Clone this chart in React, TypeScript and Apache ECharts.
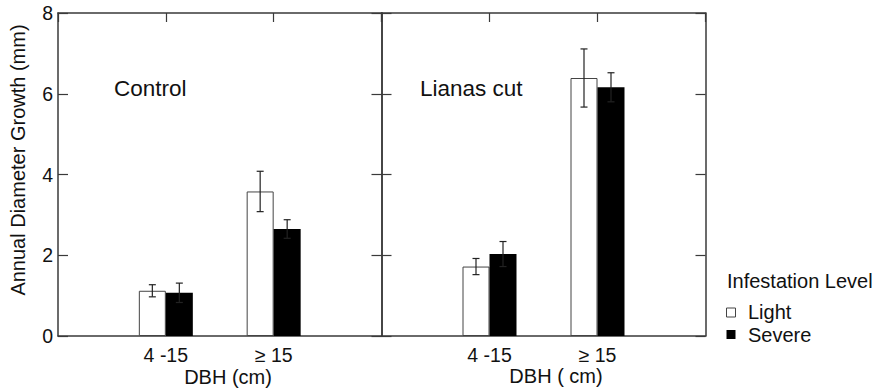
import React, { useEffect, useRef } from "react";
import * as echarts from "echarts";

const categories = ["4 -15", "≥ 15"];
const yTicks = [0, 2, 4, 6, 8];
const controlLight = [1.12, 3.58];
const controlLightErr = [0.15, 0.5];
const controlSevere = [1.07, 2.65];
const controlSevereErr = [0.24, 0.23];
const cutLight = [1.72, 6.39];
const cutLightErr = [0.2, 0.72];
const cutSevere = [2.03, 6.16];
const cutSevereErr = [0.31, 0.36];
const panelTitles = ["Control", "Lianas cut"];
const xTitles = ["DBH (cm)", "DBH ( cm)"];
const legendTitle = "Infestation Level";
const seriesNames = ["Light", "Severe"];

const FONT = "'Liberation Sans', Arial, Helvetica, sans-serif";
const AXIS = "#3a3a3a";
const TXT = "#111";
const BAR_W = 27;

export default function App() {
  const ref = useRef<HTMLDivElement>(null);
  useEffect(() => {
    if (!ref.current) return;
    const chart = echarts.init(ref.current, undefined, { renderer: "svg" });
    const axisCats = ["", ...categories, ""];

    const catAxis = (gi: number, pos: "top" | "bottom") => ({
      type: "category",
      gridIndex: gi,
      position: pos,
      data: axisCats,
      boundaryGap: false,
      axisLine: { show: true, onZero: false, lineStyle: { color: AXIS, width: 1.5 } },
      axisTick: { show: pos === "top", inside: true, length: 9, lineStyle: { color: AXIS, width: 1.2 } },
      axisLabel: {
        show: pos === "bottom",
        margin: 9,
        fontSize: 19.5,
        color: TXT,
        fontFamily: FONT,
        interval: 0,
      },
      splitLine: { show: false },
    });

    const valAxis = (gi: number, pos: "left" | "right", labels: boolean) => ({
      type: "value",
      gridIndex: gi,
      position: pos,
      min: yTicks[0],
      max: yTicks[yTicks.length - 1],
      interval: yTicks[1] - yTicks[0],
      axisLine: { show: true, onZero: false, lineStyle: { color: AXIS, width: 1.5 } },
      axisTick: { show: true, inside: true, length: 10, lineStyle: { color: AXIS, width: 1.2 } },
      axisLabel: { show: labels, margin: 5, fontSize: 19.5, color: TXT, fontFamily: FONT },
      splitLine: { show: false },
    });

    const toPairs = (vals: number[]) => vals.map((v, i) => [i + 1, v]);
    const errData = (vals: number[], errs: number[], off: number) =>
      vals.map((v, i) => [i + 1, v, errs[i], off]);

    const renderErr = (params: any, api: any) => {
      const x = api.value(0);
      const v = api.value(1);
      const e = api.value(2);
      const off = api.value(3);
      const top = api.coord([x, v + e]);
      const bot = api.coord([x, v - e]);
      const cx = top[0] + off;
      const half = 3.5;
      const style = { stroke: "#222", lineWidth: 1.2 };
      return {
        type: "group",
        children: [
          { type: "line", shape: { x1: cx, y1: top[1], x2: cx, y2: bot[1] }, style },
          { type: "line", shape: { x1: cx - half, y1: top[1], x2: cx + half, y2: top[1] }, style },
          { type: "line", shape: { x1: cx - half, y1: bot[1], x2: cx + half, y2: bot[1] }, style },
        ],
      };
    };

    const barSeries = (gi: number, name: string, vals: number[], light: boolean) => ({
      type: "bar",
      name,
      xAxisIndex: gi * 2,
      yAxisIndex: gi * 2,
      data: toPairs(vals),
      barWidth: BAR_W,
      barGap: "0%",
      itemStyle: light
        ? { color: "#ffffff", borderColor: "#444", borderWidth: 1 }
        : { color: "#000000" },
      z: 2,
    });

    const errSeries = (gi: number, vals: number[], errs: number[], off: number) => ({
      type: "custom",
      xAxisIndex: gi * 2,
      yAxisIndex: gi * 2,
      data: errData(vals, errs, off),
      renderItem: renderErr,
      z: 5,
      silent: true,
    });

    const textEl = (text: string, x: number, y: number, align: string, size: number, extra: any = {}) => ({
      type: "text",
      x,
      y,
      ...extra,
      style: {
        text,
        fill: TXT,
        font: `${size}px ${FONT}`,
        align,
        verticalAlign: "middle",
      },
    });

    const option: any = {
      animation: false,
      backgroundColor: "#ffffff",
      grid: [
        { left: 58, top: 13, width: 323.5, height: 323 },
        { left: 381.5, top: 13, width: 324, height: 323 },
      ],
      xAxis: [catAxis(0, "bottom"), catAxis(0, "top"), catAxis(1, "bottom"), catAxis(1, "top")],
      yAxis: [
        valAxis(0, "left", true),
        valAxis(0, "right", false),
        valAxis(1, "left", false),
        valAxis(1, "right", false),
      ],
      series: [
        barSeries(0, seriesNames[0], controlLight, true),
        barSeries(0, seriesNames[1], controlSevere, false),
        barSeries(1, seriesNames[0], cutLight, true),
        barSeries(1, seriesNames[1], cutSevere, false),
        errSeries(0, controlLight, controlLightErr, -BAR_W / 2),
        errSeries(0, controlSevere, controlSevereErr, BAR_W / 2),
        errSeries(1, cutLight, cutLightErr, -BAR_W / 2),
        errSeries(1, cutSevere, cutSevereErr, BAR_W / 2),
      ],
      graphic: [
        textEl("Annual Diameter Growth (mm)", 18, 160, "center", 20, { rotation: Math.PI / 2 }),
        textEl(panelTitles[0], 114, 88, "left", 22.5),
        textEl(panelTitles[1], 420, 88, "left", 22.5),
        textEl(xTitles[0], 228, 377, "center", 20),
        textEl(xTitles[1], 556, 376, "center", 20),
        textEl(legendTitle, 727, 281, "left", 20),
        {
          type: "rect",
          shape: { x: 726.5, y: 308, width: 9, height: 9 },
          style: { fill: "#fff", stroke: "#444", lineWidth: 1 },
        },
        textEl(seriesNames[0], 748, 311.5, "left", 20),
        {
          type: "rect",
          shape: { x: 726.5, y: 330, width: 9, height: 9 },
          style: { fill: "#000" },
        },
        textEl(seriesNames[1], 748, 334.5, "left", 20),
      ],
    };
    chart.setOption(option);
    return () => chart.dispose();
  }, []);

  return (
    <div
      ref={ref}
      style={{ position: "absolute", left: 0, top: 0, width: 877, height: 390 }}
    />
  );
}
